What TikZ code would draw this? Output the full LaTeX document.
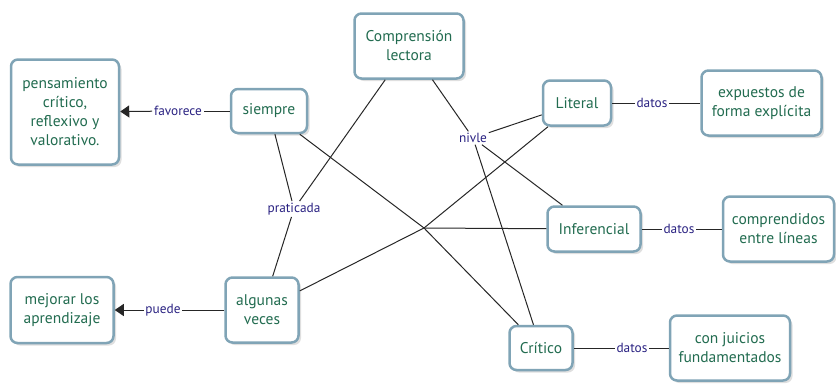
\documentclass[tikz,border=0pt]{standalone}
\usepackage{fontspec}
\setmainfont{PT Sans}
\usepackage{xcolor}
\usepackage{tikz}
\usetikzlibrary{positioning,shadows,arrows.meta}
\definecolor{boxline}{RGB}{128,164,182}
\definecolor{boxtext}{RGB}{34,108,80}
\definecolor{linktext}{RGB}{42,34,130}

\begin{document}
\begin{tikzpicture}[x=1pt, y=-1pt, thick]
    % Styles
    \tikzstyle{concept} = [draw=boxline, line width=2.5pt, rounded corners=7pt, fill=white, text=boxtext, align=center, font=\fontsize{15.5}{19}\selectfont, drop shadow={shadow xshift=2.5pt, shadow yshift=-2.5pt, fill=black!25}]
    \tikzstyle{link} = [fill=white, text=linktext, inner sep=1.5pt, font=\fontsize{13.3}{15}\selectfont]
    \tikzstyle{conn} = [draw=black!85, line width=1pt]

    \useasboundingbox (0,0) rectangle (836,384);

    % Concepts
    \node [concept, minimum width=109pt, minimum height=65pt] (Comp) at (409,46) {Comprensión\\lectora};
    \node [concept, minimum width=76pt, minimum height=44pt] (Siem) at (269,111) {siempre};
    \node [concept, minimum width=108pt, minimum height=105pt] (Pens) at (65,112) {pensamiento\\crítico,\\reflexivo y\\valorativo.};
    \node [concept, minimum width=73pt, minimum height=65pt] (Algu) at (262,310) {algunas\\veces};
    \node [concept, minimum width=103pt, minimum height=66pt] (Mejo) at (62,310) {mejorar los\\aprendizaje};

    % Levels
    \node [concept, minimum width=68pt, minimum height=45pt] (Lit) at (577,103) {Literal};
    \node [concept, minimum width=93pt, minimum height=45pt] (Inf) at (594,229) {Inferencial};
    \node [concept, minimum width=63pt, minimum height=44pt] (Cri) at (541,348) {Crítico};

    % Descriptions
    \node [concept, minimum width=120pt, minimum height=65pt, right=88pt of Lit] (Expu) {expuestos de\\forma explícita};
    \node [concept, minimum width=111pt, minimum height=65pt, right=80pt of Inf] (Entr) {comprendidos\\entre líneas};
    \node [concept, minimum width=120pt, minimum height=65pt, right=95pt of Cri] (Juic) {con juicios\\fundamentados};

    % Linking phrases
    \node [link] (Fav) at (178,111) {favorece};
    \node [link] (Pue) at (163,310) {puede};
    \node [link] (Prat) at (294,209) {praticada};
    \node [link] (Niv) at (473,138) {nivle};
    \node [link] (DatL) at (652,103) {datos};
    \node [link] (DatI) at (679,229) {datos};
    \node [link] (DatC) at (632,348) {datos};
    \coordinate (Hub) at (424,228);

    % Edges
    % Comprension - praticada - siempre / algunas veces
    \draw [conn] (Comp) -- (Prat);
    \draw [conn] (Siem) -- (Prat);
    \draw [conn] (Prat) -- (Algu);

    % Comprension - nivle - levels
    \draw [conn] (Comp) -- (Niv);
    \draw [conn] (Niv) -- (Lit);
    \draw [conn] (Niv) -- (Inf);
    \draw [conn] (Niv) -- (Cri);

    % siempre / algunas veces - levels
    \draw [conn] (Siem) -- (Hub); \draw [conn] (Algu) -- (Hub);
    \draw [conn] (Hub) -- (Lit); \draw [conn] (Hub) -- (Inf); \draw [conn] (Hub) -- (Cri);

    % Left side
    \draw [conn] (Siem) -- (Fav);
    \draw [conn, -{Triangle[length=9pt, width=12pt]}] (Fav) -- (Pens);
    \draw [conn] (Algu) -- (Pue);
    \draw [conn, -{Triangle[length=9pt, width=12pt]}] (Pue) -- (Mejo);

    % Right side
    \draw [conn] (Lit) -- (DatL); \draw [conn] (DatL) -- (Expu);
    \draw [conn] (Inf) -- (DatI); \draw [conn] (DatI) -- (Entr);
    \draw [conn] (Cri) -- (DatC); \draw [conn] (DatC) -- (Juic);

\end{tikzpicture}
\end{document}
